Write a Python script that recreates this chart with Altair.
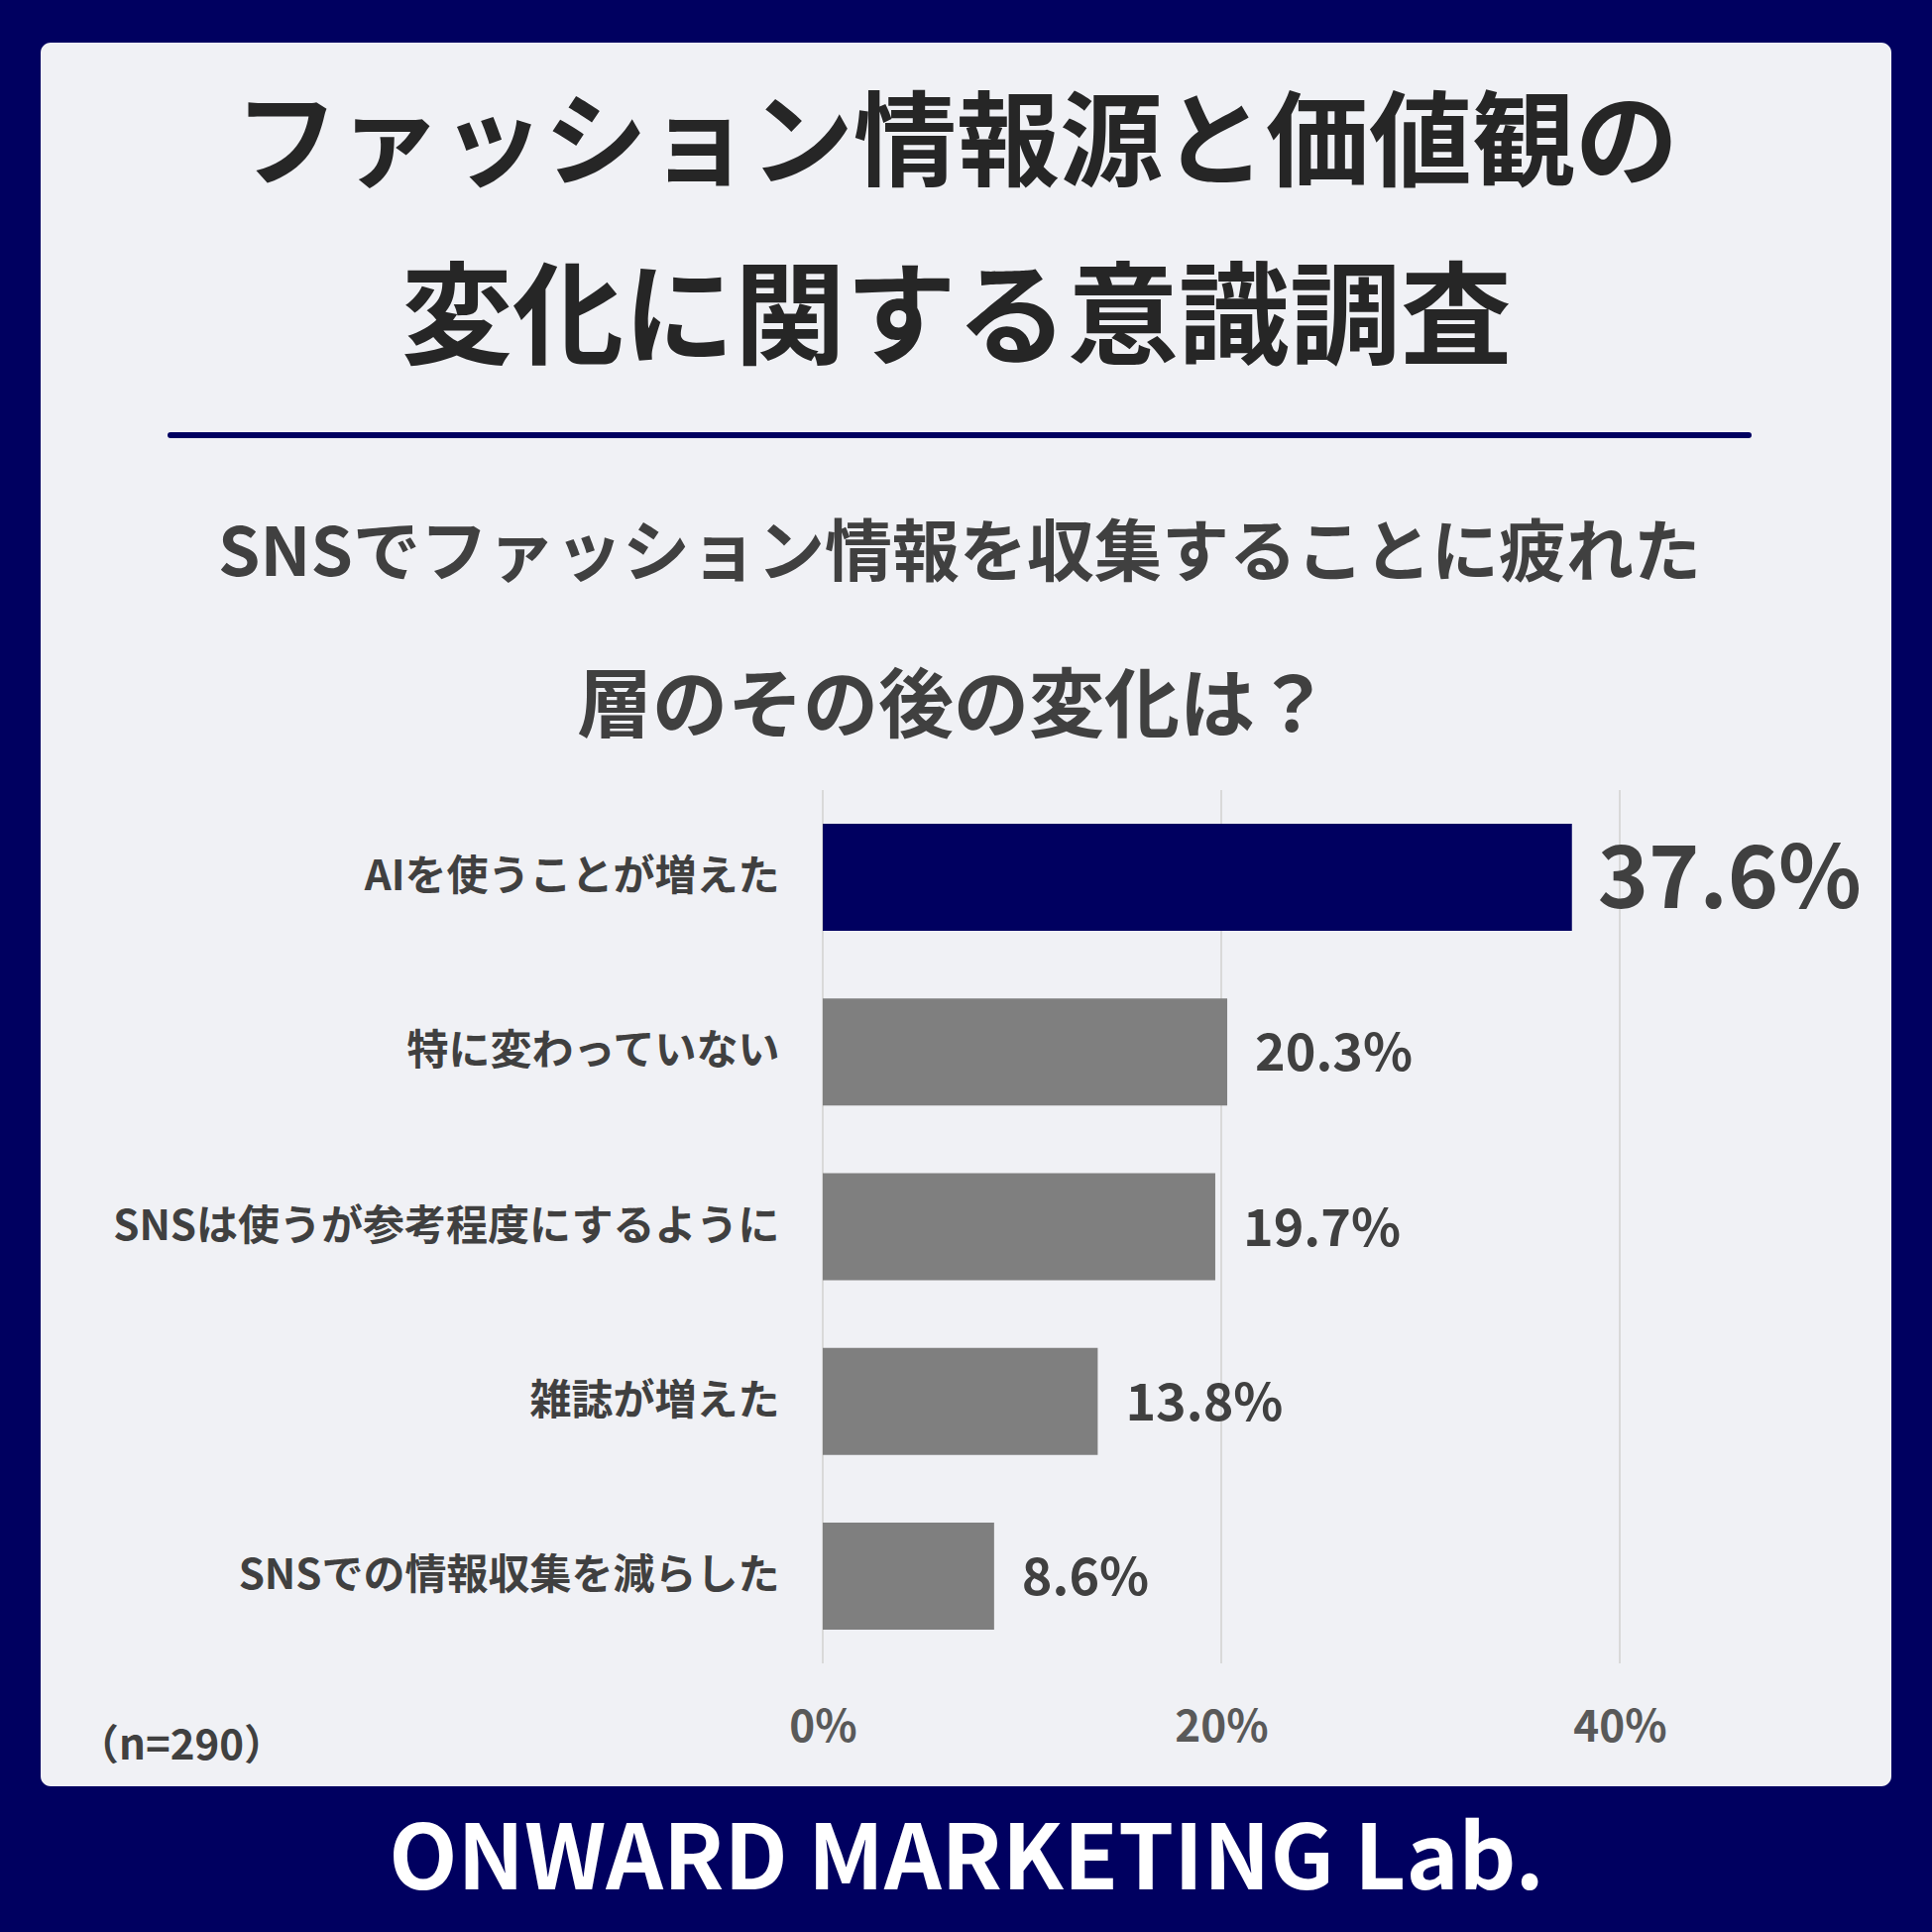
import altair as alt
import pandas as pd

# ---- data ----
categories = [
    "AIを使うことが増えた",
    "特に変わっていない",
    "SNSは使うが参考程度にするように",
    "雑誌が増えた",
    "SNSでの情報収集を減らした",
]
values = [37.6, 20.3, 19.7, 13.8, 8.6]
tick_values = [0, 20, 40]

title_lines = ["ファッション情報源と価値観の", "変化に関する意識調査"]
subtitle_lines = ["SNSでファッション情報を収集することに疲れた", "層のその後の変化は？"]
sample_note = "（n=290）"
footer_text = "ONWARD MARKETING Lab."

NAVY = "#000060"
PANEL = "#f0f1f5"
GRAY_BAR = "#7f7f7f"
TXT = "#404040"
FONT = "Noto Sans CJK JP"

df = pd.DataFrame({"category": categories, "value": values})
df_grid = pd.DataFrame({"value": tick_values})

W, H = 1005, 881
PL, PT = 830, 797
one = pd.DataFrame({"a": [0]})

x_scale = alt.Scale(domain=[0, 50], nice=False, zero=True)
y_scale = alt.Scale(domain=categories, paddingInner=0.387, paddingOuter=0.1935)

x_axis = alt.Axis(
    values=tick_values, labelExpr="datum.value + '%'", grid=False,
    ticks=False, domain=False, labelFont=FONT, labelFontSize=44,
    labelFontWeight="bold", labelColor="#595959", labelPadding=43,
    labelBaseline="top", labelFlush=False, labelAlign="center", zindex=1,
)

panel = alt.Chart(one).mark_rect(color=PANEL, cornerRadius=10).encode(
    x=alt.value(41 - PL), x2=alt.value(1908 - PL),
    y=alt.value(43 - PT), y2=alt.value(1802 - PT),
)

sep = alt.Chart(one).mark_rule(color=NAVY, strokeWidth=6, strokeCap="round").encode(
    x=alt.value(172 - PL), x2=alt.value(1764 - PL), y=alt.value(439 - PT),
)


def text_layer(txt, x, y, size, color, align="center", weight="bold", font=FONT):
    return alt.Chart(one).mark_text(
        text=txt, font=font, fontSize=size, fontWeight=weight, color=color,
        align=align, baseline="middle",
    ).encode(x=alt.value(x - PL), y=alt.value(y - PT))


t1 = text_layer(title_lines[0], 965, 149, 104, "#262626")
t2 = text_layer(title_lines[1], 965, 325, 112, "#262626")
s1 = text_layer(subtitle_lines[0], 968, 561, 68, TXT)
s2 = text_layer(subtitle_lines[1], 962, 715, 76, TXT)
note = text_layer(sample_note, 78, 1762, 42, TXT, align="left")
footer = text_layer(footer_text, 975, 1879, 90, "#ffffff")

grid = alt.Chart(df_grid).mark_rule(color="#d9d9d9", strokeWidth=2).encode(
    x=alt.X("value:Q", scale=x_scale, axis=x_axis, title=None),
)

bars = alt.Chart(df).mark_bar().encode(
    x=alt.X("value:Q", scale=x_scale, title=None, axis=x_axis),
    y=alt.Y(
        "category:N", scale=y_scale, sort=categories, title=None,
        axis=alt.Axis(
            ticks=False, domain=False, labelFont=FONT, labelFontSize=42,
            labelFontWeight="bold", labelColor=TXT, labelPadding=44,
            labelLimit=900, labelAlign="right", zindex=1,
        ),
    ),
    color=alt.condition(
        alt.datum.category == categories[0], alt.value(NAVY), alt.value(GRAY_BAR)
    ),
)

labels_small = alt.Chart(df).transform_filter(
    alt.datum.category != categories[0]
).transform_calculate(
    lab="format(datum.value, '.1f') + '%'"
).mark_text(
    align="left", baseline="middle", dx=28, dy=3, font=FONT, fontSize=52,
    fontWeight="bold", color=TXT,
).encode(
    x=alt.X("value:Q", scale=x_scale, axis=x_axis),
    y=alt.Y("category:N", scale=y_scale, sort=categories),
    text="lab:N",
)

label_big = alt.Chart(df).transform_filter(
    alt.datum.category == categories[0]
).transform_calculate(
    lab="format(datum.value, '.1f') + '%'"
).mark_text(
    align="left", baseline="middle", dx=26, dy=5, font=FONT, fontSize=87,
    fontWeight="bold", color=TXT,
).encode(
    x=alt.X("value:Q", scale=x_scale, axis=x_axis),
    y=alt.Y("category:N", scale=y_scale, sort=categories),
    text="lab:N",
)

chart = alt.layer(
    panel, sep, t1, t2, s1, s2, grid, bars, labels_small, label_big, note, footer
).properties(
    width=W, height=H,
    background=NAVY,
    padding={"left": PL, "top": PT, "right": 1949 - PL - W, "bottom": 1949 - PT - H},
    autosize=alt.AutoSizeParams(type="none"),
).configure_view(stroke=None)

chart.save("out.html", embed_options={"renderer": "svg", "actions": False})
